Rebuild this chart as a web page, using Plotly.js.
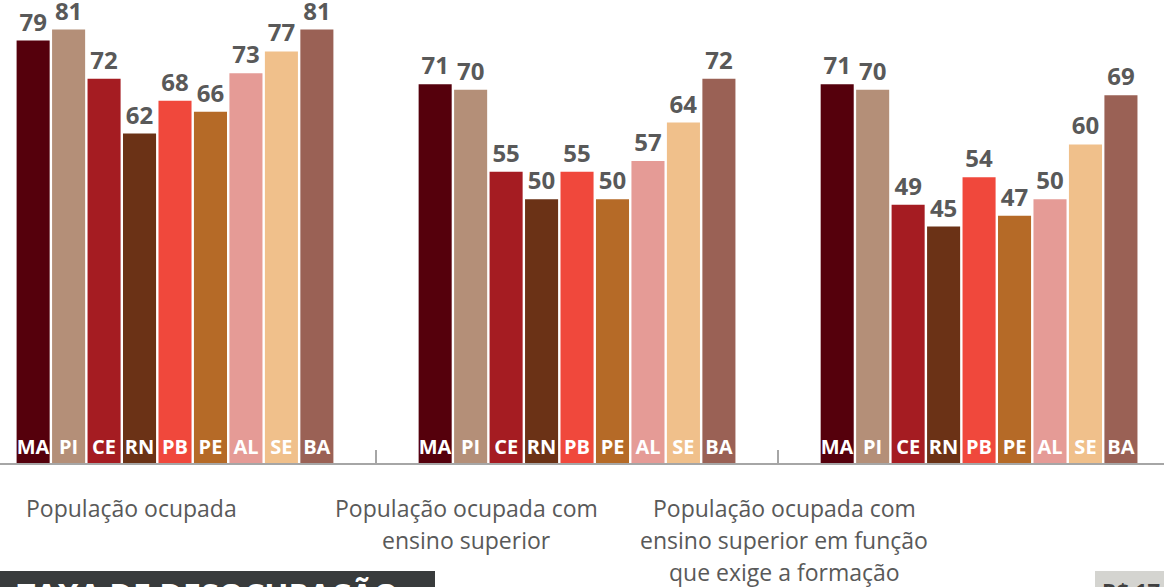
<!DOCTYPE html>
<html>
<head>
<meta charset="utf-8">
<script src="https://cdn.plot.ly/plotly-3.0.1.min.js"></script>
<style>html,body{margin:0;padding:0;background:#fff;overflow:hidden}#chart{width:1164px;height:587px}</style>
</head>
<body>
<div id="chart"></div>
<script>
// ---- data ----
const groups = ["População ocupada", "População ocupada com ensino superior", "População ocupada com ensino superior em função que exige a formação"];
const groupLabelLines = [
  ["População ocupada"],
  ["População ocupada com", "ensino superior"],
  ["População ocupada com", "ensino superior em função", "que exige a formação"]
];
const states = ["MA", "PI", "CE", "RN", "PB", "PE", "AL", "SE", "BA"];
const ocupada =         [79, 81, 72, 62, 68, 66, 73, 77, 81];
const ocupadaSuperior = [71, 70, 55, 50, 55, 50, 57, 64, 72];
const ocupadaFuncao =   [71, 70, 49, 45, 54, 47, 50, 60, 69];

// ---- style ----
const colors = ["#55000c", "#b48f78", "#a51c22", "#6b3216", "#f0483c", "#b56a27", "#e59b96", "#f0c08b", "#9a6155"];
const labelShift = [-44, -111, -195];
const Y_MIN = 1.8, Y_MAX = 86.4;
const FONT = "Open Sans, Noto Sans, sans-serif";

const traces = [];
states.forEach((s, i) => {
  const vals = [ocupada[i], ocupadaSuperior[i], ocupadaFuncao[i]];
  traces.push({
    type: "bar", x: groups, y: vals, name: s, offsetgroup: s,
    marker: {color: colors[i], line: {width: 0}},
    text: vals.map(String), textposition: "outside", constraintext: "none",
    cliponaxis: false,
    textfont: {family: FONT, size: 24, color: "#595959", weight: "bold"},
    hoverinfo: "none", showlegend: false
  });
  // transparent twin bar carrying the state abbreviation at the bottom of each bar
  traces.push({
    type: "bar", x: groups, y: vals.map(() => 20), base: Y_MIN, name: s + " label", offsetgroup: s,
    marker: {color: "rgba(0,0,0,0)", line: {width: 0}},
    text: groups.map(() => s), textposition: "inside", insidetextanchor: "start",
    constraintext: "none", textangle: 0,
    insidetextfont: {family: FONT, size: 20, color: "#ffffff", weight: "bold"},
    hoverinfo: "none", showlegend: false
  });
});

const annotations = [];
groupLabelLines.forEach((lines, i) => {
  lines.forEach((t, j) => {
    annotations.push({
      text: t, x: i, xref: "x", y: 0, yref: "paper", yanchor: "middle", xanchor: "center",
      xshift: labelShift[i], yshift: -(45 + 32 * j), showarrow: false, align: "center",
      font: {family: FONT, size: 23, color: "#595959"}
    });
  });
});
annotations.push({
  text: "TAXA DE DESOCUPAÇÃO", x: 15 / 1164, xref: "paper", xanchor: "left",
  y: 0, yref: "paper", yanchor: "top", yshift: -108, showarrow: false,
  font: {family: FONT, size: 32, color: "#ffffff", weight: "bold"}
});
annotations.push({
  text: "R$ 17", x: 1100 / 1164, xref: "paper", xanchor: "left",
  y: 0, yref: "paper", yanchor: "top", yshift: -110, showarrow: false,
  font: {family: FONT, size: 22, color: "#404040", weight: "bold"}
});

const layout = {
  width: 1164, height: 587,
  margin: {l: 0, r: 0, t: 0, b: 124, pad: 0},
  paper_bgcolor: "#ffffff", plot_bgcolor: "#ffffff",
  barmode: "group", bargap: 0.206, bargroupgap: 0.068,
  xaxis: {
    type: "category", range: [-0.4353, 2.460], showticklabels: false,
    showline: true, linecolor: "#a6a6a6", linewidth: 2,
    ticks: "inside", tickson: "boundaries", ticklen: 13, tickwidth: 2, tickcolor: "#a6a6a6",
    showgrid: false, zeroline: false, fixedrange: true
  },
  yaxis: {range: [Y_MIN, Y_MAX], visible: false, showgrid: false, zeroline: false, fixedrange: true},
  shapes: [
    {type: "rect", xref: "paper", yref: "paper", x0: 0, x1: 435 / 1164, y0: -(571 - 463) / 463, y1: -0.4,
     fillcolor: "#383b3c", line: {width: 0}, layer: "below"},
    {type: "rect", xref: "paper", yref: "paper", x0: 1095 / 1164, x1: 1, y0: -(571 - 463) / 463, y1: -0.4,
     fillcolor: "#d4d4d0", line: {width: 0}, layer: "below"}
  ],
  annotations: annotations,
  font: {family: FONT}
};

Plotly.newPlot("chart", traces, layout, {displayModeBar: false, staticPlot: true});
</script>
</body>
</html>
